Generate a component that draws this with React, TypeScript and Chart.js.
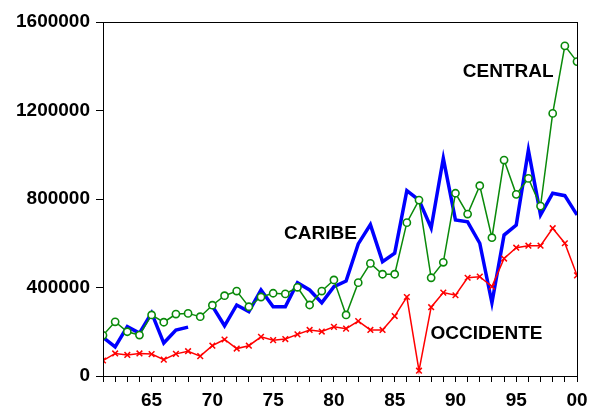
import React, { useEffect, useRef } from "react";
import { Chart, registerables } from "chart.js";

Chart.register(...registerables);

const years = [
  61, 62, 63, 64, 65, 66, 67, 68, 69, 70,
  71, 72, 73, 74, 75, 76, 77, 78, 79, 80,
  81, 82, 83, 84, 85, 86, 87, 88, 89, 90,
  91, 92, 93, 94, 95, 96, 97, 98, 99, 100,
];

const caribe: (number | null)[] = [
  175000, 132000, 223000, 194000, 285000, 149000, 208000, 221000, null, 316000,
  227000, 321000, 291000, 389000, 313000, 313000, 422000, 389000, 331000, 404000,
  429000, 597000, 684000, 517000, 555000, 838000, 795000, 669000, 984000, 705000,
  697000, 600000, 331000, 637000, 682000, 1021000, 728000, 826000, 815000, 728000,
];

const central = [
  184000, 245000, 200000, 185000, 276000, 243000, 280000, 283000, 268000, 320000,
  363000, 384000, 313000, 357000, 374000, 371000, 401000, 321000, 384000, 434000,
  276000, 422000, 509000, 460000, 460000, 693000, 795000, 444000, 514000, 826000,
  732000, 860000, 625000, 976000, 821000, 893000, 768000, 1187000, 1492000, 1421000,
];

const occidente = [
  70000, 102000, 95000, 102000, 99000, 74000, 100000, 112000, 90000, 137000,
  165000, 124000, 137000, 177000, 162000, 167000, 188000, 208000, 201000, 222000,
  214000, 248000, 208000, 208000, 271000, 357000, 24000, 311000, 377000, 365000,
  444000, 449000, 404000, 531000, 580000, 589000, 589000, 668000, 600000, 455000,
];

const labelTexts = ["CENTRAL", "CARIBE", "OCCIDENTE"];
const labelYears = [90.6, 75.9, 87.95];
const labelValues = [1375000, 642000, 190000];

const toPoints = (vals: (number | null)[]) =>
  years.map((x, i) => ({ x, y: vals[i] }));

const FONT = "'Liberation Sans', Arial, sans-serif";

const boxPlugin = {
  id: "boxPlugin",
  afterDraw(chart: any) {
    const { ctx, chartArea } = chart;
    ctx.save();
    ctx.strokeStyle = "#000";
    ctx.lineWidth = 1;
    ctx.strokeRect(
      Math.round(chartArea.left) + 0.5,
      Math.round(chartArea.top) + 0.5,
      Math.round(chartArea.right - chartArea.left),
      Math.round(chartArea.bottom - chartArea.top)
    );
    ctx.restore();
  },
};

const labelPlugin = {
  id: "labelPlugin",
  afterDatasetsDraw(chart: any) {
    const { ctx, scales } = chart;
    ctx.save();
    ctx.fillStyle = "#000";
    ctx.font = `bold 19px ${FONT}`;
    ctx.textAlign = "left";
    ctx.textBaseline = "middle";
    labelTexts.forEach((t, i) => {
      const px = scales.x.getPixelForValue(labelYears[i]);
      const py = scales.y.getPixelForValue(labelValues[i]);
      ctx.fillText(t, px, py);
    });
    ctx.restore();
  },
};

export default function App() {
  const ref = useRef<HTMLCanvasElement | null>(null);

  useEffect(() => {
    if (!ref.current) return;
    const chart = new Chart(ref.current, {
      type: "line",
      data: {
        datasets: [
          {
            label: "CENTRAL",
            data: toPoints(central),
            borderColor: "#0a8a0a",
            borderWidth: 1.5,
            pointStyle: "circle",
            pointRadius: 3.6,
            pointBackgroundColor: "#ffffff",
            pointBorderColor: "#0a8a0a",
            pointBorderWidth: 1.6,
            tension: 0,
          },
          {
            label: "OCCIDENTE",
            data: toPoints(occidente),
            borderColor: "#ff0000",
            borderWidth: 1.5,
            pointStyle: "crossRot",
            pointRadius: 4,
            pointBorderColor: "#ff0000",
            pointBorderWidth: 1.5,
            tension: 0,
          },
          {
            label: "CARIBE",
            data: toPoints(caribe),
            borderColor: "#0000ff",
            borderWidth: 3.5,
            pointRadius: 0,
            spanGaps: false,
            tension: 0,
          },
        ],
      },
      options: {
        animation: false,
        responsive: true,
        maintainAspectRatio: false,
        layout: { padding: { top: 22, right: 13, left: 0, bottom: 0 } },
        plugins: {
          legend: { display: false },
          tooltip: { enabled: false },
          title: { display: false },
        },
        scales: {
          x: {
            type: "linear",
            min: 61,
            max: 100,
            afterFit: (s: any) => {
              s.height = 33;
              s.paddingRight = 0;
              s.paddingLeft = 0;
            },
            ticks: {
              stepSize: 1,
              autoSkip: false,
              maxRotation: 0,
              padding: 7,
              color: "#000",
              font: { family: FONT, size: 19, weight: "bold" },
              callback: (v: any) => {
                const n = Number(v);
                if (n % 5 !== 0) return "";
                return n === 100 ? "00" : String(n % 100);
              },
            },
            grid: {
              drawOnChartArea: false,
              drawTicks: true,
              tickLength: 6,
              color: "#000",
            },
            border: { display: true, color: "#000", width: 1 },
          },
          y: {
            min: 0,
            max: 1600000,
            afterFit: (s: any) => {
              s.width = 103;
              s.paddingTop = 0;
              s.paddingBottom = 0;
            },
            ticks: {
              stepSize: 400000,
              padding: 6,
              color: "#000",
              font: { family: FONT, size: 19, weight: "bold" },
              callback: (v: any) => String(v),
            },
            grid: {
              drawOnChartArea: false,
              drawTicks: true,
              tickLength: 7,
              color: "#000",
            },
            border: { display: true, color: "#000", width: 1 },
          },
        },
      },
      plugins: [boxPlugin, labelPlugin],
    });
    return () => chart.destroy();
  }, []);

  return (
    <div
      style={{
        position: "fixed",
        left: 0,
        top: 0,
        width: 590,
        height: 409,
        background: "#fff",
      }}
    >
      <canvas ref={ref} />
    </div>
  );
}
